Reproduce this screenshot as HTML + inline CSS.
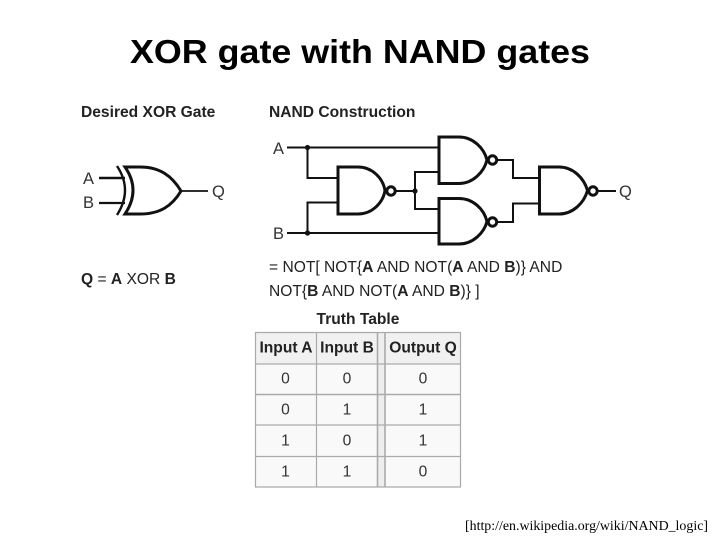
<!DOCTYPE html>
<html>
<head>
<meta charset="utf-8">
<style>
html,body{margin:0;padding:0;background:#fff;width:720px;height:540px;overflow:hidden}
svg{display:block}
.h{font-family:"Liberation Sans",sans-serif;font-weight:bold;font-size:15.6px;fill:#222}
.l{font-family:"Liberation Sans",sans-serif;font-size:16.5px;fill:#333}
.t{font-family:"Liberation Sans",sans-serif;font-size:15.6px;fill:#222}
.c{font-family:"Liberation Sans",sans-serif;font-size:15.6px;fill:#333;text-anchor:middle}
.ch{font-family:"Liberation Sans",sans-serif;font-size:15.6px;font-weight:bold;fill:#222;text-anchor:middle}
</style>
</head>
<body>
<svg width="720" height="540" viewBox="0 0 720 540" xmlns="http://www.w3.org/2000/svg">
<text x="130" y="63" textLength="460" lengthAdjust="spacingAndGlyphs" font-family="Liberation Sans, sans-serif" font-weight="bold" font-size="33" fill="#000">XOR gate with NAND gates</text>

<g style="filter:blur(0.35px)">
<text class="h" x="81" y="117">Desired XOR Gate</text>
<text class="h" x="269" y="117">NAND Construction</text>

<!-- XOR gate -->
<text class="l" x="83" y="184">A</text>
<text class="l" x="83" y="208">B</text>
<text class="l" x="212" y="197">Q</text>
<g fill="none" stroke="#111" stroke-linecap="butt">
<path d="M99 178H125" stroke-width="2.6"/>
<path d="M99 203H125" stroke-width="2.2"/>
<path d="M181 191H208" stroke-width="1.8"/>
<path d="M117 166Q133 190 117 215" stroke-width="2.4"/>
<path d="M125 167H140C160 167 172 176 181 191C172 206 160 214 140 214H125Q141 190 125 167Z" stroke-width="3"/>
</g>
<text class="t" x="81" y="284"><tspan font-weight="bold">Q</tspan> = <tspan font-weight="bold">A</tspan> XOR <tspan font-weight="bold">B</tspan></text>

<!-- NAND construction -->
<text class="l" x="273" y="154">A</text>
<text class="l" x="273" y="239">B</text>
<text class="l" x="619" y="197">Q</text>
<g fill="none" stroke="#111" stroke-width="2">
<path d="M287 147.5H439"/>
<path d="M287 233H439"/>
<path d="M307.5 147.5V178H338"/>
<path d="M307.5 233V202.5H338"/>
<path d="M396 191H415"/>
<path d="M439 172H415V209H439"/>
<path d="M497 160H513V178H539"/>
<path d="M497 222H513V203.5H539"/>
<path d="M598 191H616"/>
</g>
<g fill="#111">
<circle cx="307.5" cy="147.5" r="2.6"/>
<circle cx="307.5" cy="233" r="2.6"/>
<circle cx="415" cy="191" r="2.6"/>
</g>
<g fill="#fff" stroke="#111" stroke-width="3">
<path d="M338 167H358C372 167 383 178 385 190.500C383 203 372 214 358 214H338Z"/>
<circle cx="391" cy="191" r="4.200"/>
<path d="M439 137H459C473 137 484 148 487 160C484 172 473 183.500 459 183.500H439Z"/>
<circle cx="492.500" cy="160" r="4.200"/>
<path d="M439 198.500H459C473 198.500 484 209 487 221.500C484 233 473 244 459 244H439Z"/>
<circle cx="492.500" cy="222" r="4.200"/>
<path d="M539.500 167H559C573 167 584 178 587.500 190.500C584 203 573 214 559 214H539.500Z"/>
<circle cx="593" cy="191" r="4.200"/>
</g>

<text class="t" x="269" y="272">= NOT[ NOT{<tspan font-weight="bold">A</tspan> AND NOT(<tspan font-weight="bold">A</tspan> AND <tspan font-weight="bold">B</tspan>)} AND</text>
<text class="t" x="269" y="296">NOT{<tspan font-weight="bold">B</tspan> AND NOT(<tspan font-weight="bold">A</tspan> AND <tspan font-weight="bold">B</tspan>)} ]</text>
<text class="h" x="358" y="324" text-anchor="middle">Truth Table</text>

<!-- Table -->
<rect x="255.500" y="332.500" width="205" height="154.500" fill="#f9f9f9"/>
<rect x="256" y="333" width="204" height="31" fill="#f1f1f1"/>
<rect x="378.200" y="333" width="6.100" height="154" fill="#eee"/>
<g stroke="#aaa" stroke-width="1.200" fill="none">
<path d="M255.500 332.500H460.500V487H255.500Z"/>
<path d="M255.500 364H460.500"/>
<path d="M255.500 394.500H460.500" stroke-width="1.600"/>
<path d="M255.500 425H460.500"/>
<path d="M255.500 456.500H460.500"/>
<path d="M316.500 332.500V487"/>
<path d="M377.500 332.500V487" stroke-width="1.600"/>
<path d="M385 332.500V487" stroke-width="1.600"/>
</g>
<text class="ch" x="286" y="352.500">Input A</text>
<text class="ch" x="347" y="352.500">Input B</text>
<text class="ch" x="423" y="352.500">Output Q</text>
<text class="c" x="285.500" y="383.500">0</text><text class="c" x="347" y="383.500">0</text><text class="c" x="423" y="383.500">0</text>
<text class="c" x="285.500" y="414.500">0</text><text class="c" x="347" y="414.500">1</text><text class="c" x="423" y="414.500">1</text>
<text class="c" x="285.500" y="445.500">1</text><text class="c" x="347" y="445.500">0</text><text class="c" x="423" y="445.500">1</text>
<text class="c" x="285.500" y="476.500">1</text><text class="c" x="347" y="476.500">1</text><text class="c" x="423" y="476.500">0</text>
</g>

<text x="465" y="530" textLength="243" lengthAdjust="spacingAndGlyphs" font-family="Liberation Serif, serif" font-size="14" fill="#000">[http://en.wikipedia.org/wiki/NAND_logic]</text>
</svg>
</body>
</html>
